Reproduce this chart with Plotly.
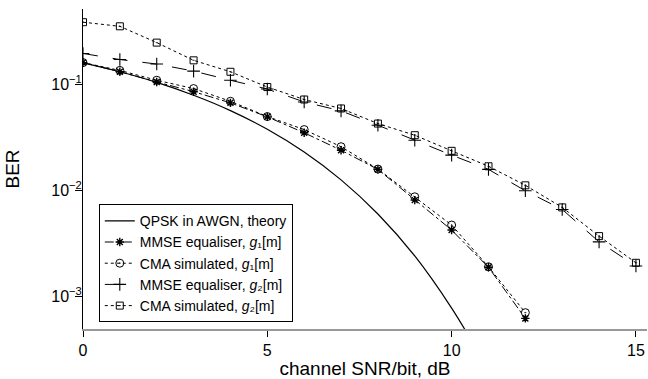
import plotly.graph_objects as go

snr = [0, 1, 2, 3, 4, 5, 6, 7, 8, 9, 10, 11, 12, 13, 14, 15]
snr_g1 = [0, 1, 2, 3, 4, 5, 6, 7, 8, 9, 10, 11, 12]
snr_theory = [0, 1, 2, 3, 4, 5, 6, 7, 8, 9, 10, 10.5]

ber_theory = [0.159, 0.131, 0.104, 0.0786, 0.0563, 0.0375, 0.0229, 0.0125, 0.00595, 0.00239, 0.00077, 0.000398]
ber_mmse_g1 = [0.160, 0.131, 0.105, 0.085, 0.0667, 0.0492, 0.0348, 0.0238, 0.0157, 0.00805, 0.0042, 0.00187, 0.000615]
ber_cma_g1 = [0.160, 0.135, 0.109, 0.091, 0.069, 0.0495, 0.0373, 0.0257, 0.0158, 0.00865, 0.00468, 0.00189, 0.000697]
ber_mmse_g2 = [0.195, 0.171, 0.155, 0.133, 0.109, 0.090, 0.068, 0.056, 0.041, 0.0296, 0.0214, 0.0157, 0.00986, 0.00657, 0.00325, 0.00192]
ber_cma_g2 = [0.385, 0.352, 0.247, 0.168, 0.131, 0.094, 0.0717, 0.059, 0.0425, 0.033, 0.0235, 0.0168, 0.0111, 0.00687, 0.00368, 0.00206]

names = [
    "QPSK in AWGN, theory",
    "MMSE equaliser, <i>g</i>₁[m]",
    "CMA simulated, <i>g</i>₁[m]",
    "MMSE equaliser, <i>g</i>₂[m]",
    "CMA simulated, <i>g</i>₂[m]",
]

fig = go.Figure()
fig.add_trace(go.Scatter(x=snr_theory, y=ber_theory, mode="lines", name=names[0],
                         line=dict(color="black", width=1.2, shape="spline")))
fig.add_trace(go.Scatter(x=snr_g1, y=ber_mmse_g1, mode="lines+markers", name=names[1],
                         line=dict(color="black", width=1, dash="dashdot"),
                         marker=dict(symbol="asterisk-open", size=7, color="black", line=dict(width=1.4, color="black"))))
fig.add_trace(go.Scatter(x=snr_g1, y=ber_cma_g1, mode="lines+markers", name=names[2],
                         line=dict(color="black", width=1, dash="dot"),
                         marker=dict(symbol="circle-open-dot", size=8, color="black", line=dict(width=1, color="black"))))
fig.add_trace(go.Scatter(x=snr, y=ber_mmse_g2, mode="lines+markers", name=names[3],
                         line=dict(color="black", width=1, dash="longdash"),
                         marker=dict(symbol="cross-thin-open", size=9, color="black", line=dict(width=1.1, color="black"))))
fig.add_trace(go.Scatter(x=snr, y=ber_cma_g2, mode="lines+markers", name=names[4],
                         line=dict(color="black", width=1, dash="dot"),
                         marker=dict(symbol="square-open-dot", size=7, color="black", line=dict(width=1, color="black"))))

fig.update_layout(
    width=648, height=379,
    margin=dict(l=83, r=1, t=9, b=50),
    paper_bgcolor="white", plot_bgcolor="white",
    font=dict(family="Liberation Sans, Arial, sans-serif", size=16, color="black"),
    showlegend=True,
    legend=dict(x=0.028, y=0.39, xanchor="left", yanchor="top",
                bordercolor="black", borderwidth=1, bgcolor="white",
                font=dict(size=14), tracegroupgap=0, itemwidth=30),
)
fig.update_xaxes(range=[0, 15.3], tickvals=[0, 5, 10, 15], ticks="outside", ticklen=6,
                 tickcolor="black", showline=True, linecolor="#999999", linewidth=2,
                 showgrid=False, zeroline=False, mirror=False,
                 title=dict(text="channel SNR/bit, dB", standoff=2))
fig.update_yaxes(type="log", range=[-3.311, -0.29], tickvals=[0.001, 0.01, 0.1],
                 ticktext=["10<sup>−3</sup>", "10<sup>−2</sup>", "10<sup>−1</sup>"],
                 ticks="outside", ticklen=7, tickcolor="black", ticklabelstandoff=-10,
                 showline=True, linecolor="black", linewidth=1,
                 showgrid=False, zeroline=False,
                 title=dict(text="BER", standoff=26))

fig.write_html("out.html", config={"displayModeBar": False},
               post_script="document.body.style.margin='0px';")
